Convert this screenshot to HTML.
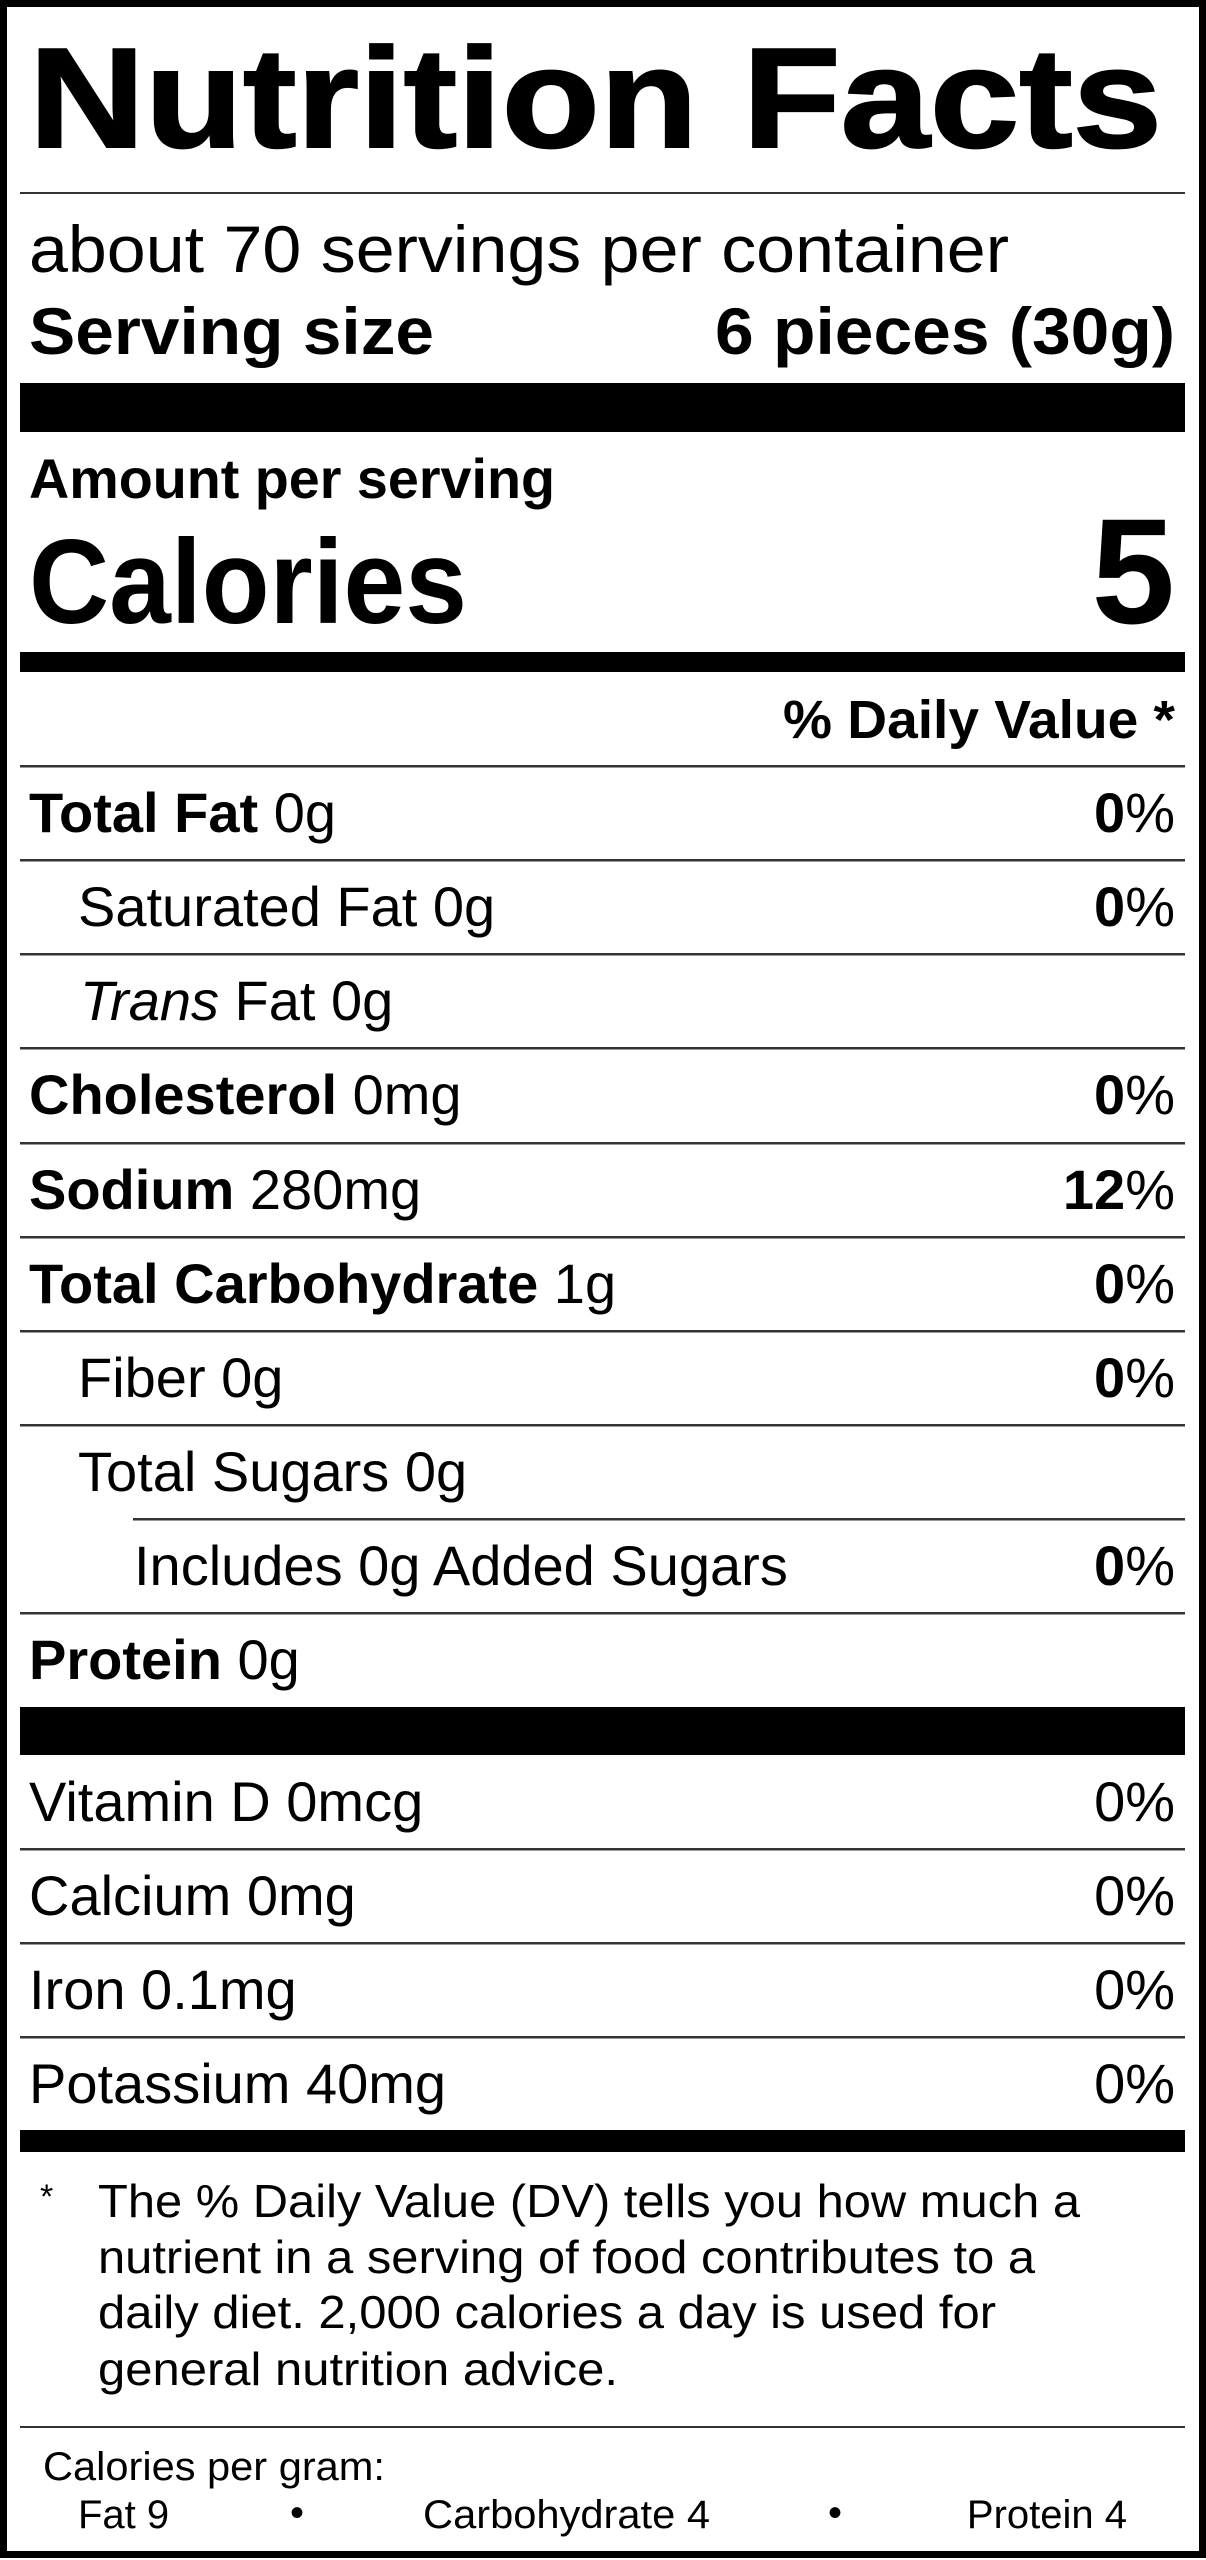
<!DOCTYPE html>
<html><head><meta charset="utf-8"><style>
html,body{margin:0;padding:0;background:#fff;}
svg{display:block;}
text{font-family:"Liberation Sans",Arial,sans-serif;fill:#000;}
.b{font-weight:bold;}
.r{font-size:56px;}
</style></head><body>
<svg width="1206" height="2560" viewBox="0 0 1206 2560" xmlns="http://www.w3.org/2000/svg">
<rect x="0" y="0" width="1206" height="2560" fill="#fff"/>
<rect x="3.5" y="3.5" width="1199" height="2551" fill="none" stroke="#000" stroke-width="7"/>
<text x="29" y="147" class="b" font-size="142" stroke="#000" stroke-width="2" textLength="1133" lengthAdjust="spacingAndGlyphs">Nutrition Facts</text>
<rect x="20" y="192" width="1165" height="2" fill="#333"/>
<text x="29" y="272" font-size="66" textLength="980" lengthAdjust="spacingAndGlyphs">about 70 servings per container</text>
<text x="29" y="354" class="b" font-size="66" textLength="405" lengthAdjust="spacingAndGlyphs">Serving size</text>
<text x="1175" y="354" class="b" font-size="66" text-anchor="end" textLength="460" lengthAdjust="spacingAndGlyphs">6 pieces (30g)</text>
<rect x="20" y="383" width="1165" height="49" fill="#000"/>
<text x="29" y="498" class="b" font-size="56" textLength="526" lengthAdjust="spacingAndGlyphs">Amount per serving</text>
<text x="29" y="623" class="b" font-size="120" textLength="438" lengthAdjust="spacingAndGlyphs">Calories</text>
<text x="1175" y="623" class="b" font-size="150" text-anchor="end">5</text>
<rect x="20" y="652" width="1165" height="20" fill="#000"/>
<text x="1175" y="738" class="b" font-size="54" text-anchor="end" textLength="392" lengthAdjust="spacingAndGlyphs">% Daily Value *</text>
<g fill="#333">
<rect x="20" y="765" width="1165" height="2.5"/>
<rect x="20" y="859" width="1165" height="2.5"/>
<rect x="20" y="953" width="1165" height="2.5"/>
<rect x="20" y="1047" width="1165" height="2.5"/>
<rect x="20" y="1142" width="1165" height="2.5"/>
<rect x="20" y="1236" width="1165" height="2.5"/>
<rect x="20" y="1330" width="1165" height="2.5"/>
<rect x="20" y="1424" width="1165" height="2.5"/>
<rect x="133" y="1518" width="1052" height="2.5"/>
<rect x="20" y="1612" width="1165" height="2.5"/>
</g>
<g class="r">
<text x="29" y="832"><tspan class="b">Total Fat</tspan> 0g</text>
<text x="1175" y="832" text-anchor="end"><tspan class="b">0</tspan>%</text>
<text x="78" y="926">Saturated Fat 0g</text>
<text x="1175" y="926" text-anchor="end"><tspan class="b">0</tspan>%</text>
<text x="80" y="1020"><tspan font-style="italic">Trans</tspan> Fat 0g</text>
<text x="29" y="1114"><tspan class="b">Cholesterol</tspan> 0mg</text>
<text x="1175" y="1114" text-anchor="end"><tspan class="b">0</tspan>%</text>
<text x="29" y="1209"><tspan class="b">Sodium</tspan> 280mg</text>
<text x="1175" y="1209" text-anchor="end"><tspan class="b">12</tspan>%</text>
<text x="29" y="1303"><tspan class="b">Total Carbohydrate</tspan> 1g</text>
<text x="1175" y="1303" text-anchor="end"><tspan class="b">0</tspan>%</text>
<text x="78" y="1397">Fiber 0g</text>
<text x="1175" y="1397" text-anchor="end"><tspan class="b">0</tspan>%</text>
<text x="78" y="1491">Total Sugars 0g</text>
<text x="134" y="1585">Includes 0g Added Sugars</text>
<text x="1175" y="1585" text-anchor="end"><tspan class="b">0</tspan>%</text>
<text x="29" y="1679"><tspan class="b">Protein</tspan> 0g</text>
</g>
<rect x="20" y="1707" width="1165" height="48" fill="#000"/>
<g class="r">
<text x="29" y="1821">Vitamin D 0mcg</text>
<text x="1175" y="1821" text-anchor="end">0%</text>
<text x="29" y="1915">Calcium 0mg</text>
<text x="1175" y="1915" text-anchor="end">0%</text>
<text x="29" y="2009">Iron 0.1mg</text>
<text x="1175" y="2009" text-anchor="end">0%</text>
<text x="29" y="2103">Potassium 40mg</text>
<text x="1175" y="2103" text-anchor="end">0%</text>
</g>
<g fill="#333">
<rect x="20" y="1848" width="1165" height="2.5"/>
<rect x="20" y="1942" width="1165" height="2.5"/>
<rect x="20" y="2036" width="1165" height="2.5"/>
</g>
<rect x="20" y="2130" width="1165" height="22" fill="#000"/>
<g font-size="46">
<text x="40" y="2208" font-size="34">*</text>
<text x="98" y="2217" textLength="982" lengthAdjust="spacingAndGlyphs">The % Daily Value (DV) tells you how much a</text>
<text x="98" y="2273" textLength="937" lengthAdjust="spacingAndGlyphs">nutrient in a serving of food contributes to a</text>
<text x="98" y="2328" textLength="898" lengthAdjust="spacingAndGlyphs">daily diet. 2,000 calories a day is used for</text>
<text x="98" y="2385" textLength="520" lengthAdjust="spacingAndGlyphs">general nutrition advice.</text>
</g>
<rect x="20" y="2426" width="1165" height="2" fill="#333"/>
<g font-size="40">
<text x="43" y="2480" textLength="342" lengthAdjust="spacingAndGlyphs">Calories per gram:</text>
<text x="78" y="2528">Fat 9</text>
<text x="297" y="2526" text-anchor="middle">•</text>
<text x="423" y="2528" textLength="287" lengthAdjust="spacingAndGlyphs">Carbohydrate 4</text>
<text x="835" y="2526" text-anchor="middle">•</text>
<text x="1127" y="2528" text-anchor="end">Protein 4</text>
</g>
</svg>
</body></html>
